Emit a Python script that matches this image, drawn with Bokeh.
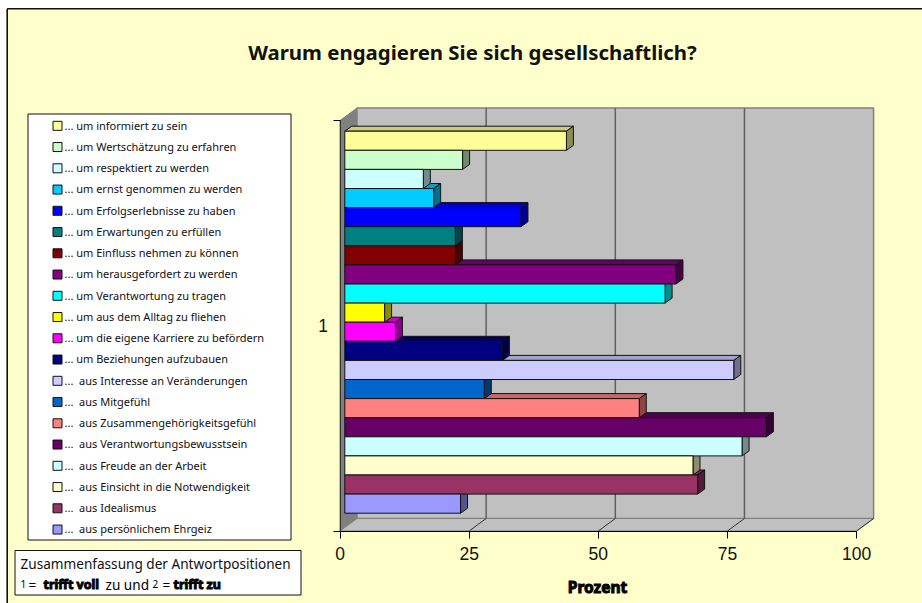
from bokeh.plotting import figure
from bokeh.embed import file_html
from bokeh.resources import INLINE
from bokeh.models import FixedTicker
from bokeh.core.properties import value

title = "Warum engagieren Sie sich gesellschaftlich?"
labels = ["... um informiert zu sein", "... um Wertschätzung zu erfahren", "... um respektiert zu werden",
          "... um ernst genommen zu werden", "... um Erfolgserlebnisse zu haben", "... um Erwartungen zu erfüllen",
          "... um Einfluss nehmen zu können", "... um herausgefordert zu werden", "... um Verantwortung zu tragen",
          "... um aus dem Alltag zu fliehen", "... um die eigene Karriere zu befördern", "... um Beziehungen aufzubauen",
          "...\u00a0 aus Interesse an Veränderungen", "...\u00a0 aus Mitgefühl", "...\u00a0 aus Zusammengehörigkeitsgefühl",
          "...\u00a0 aus Verantwortungsbewusstsein", "...\u00a0 aus Freude an der Arbeit", "...\u00a0 aus Einsicht in die Notwendigkeit",
          "...\u00a0 aus Idealismus", "...\u00a0 aus persönlichem Ehrgeiz"]
values = [42.9, 22.8, 15.2, 17.2, 34.1, 21.4, 21.4, 64.1, 62.0, 7.7, 9.8, 30.5, 75.3, 27.0, 57.0, 81.6, 76.9, 67.4, 68.3, 22.4]
colors = ["#FFFF99", "#CCFFCC", "#CCFFFF", "#00CCFF", "#0000FF", "#008080", "#800000", "#800080", "#00FFFF", "#FFFF00",
          "#FF00FF", "#000080", "#CCCCFF", "#0066CC", "#FF8080", "#660066", "#CCFFFF", "#FFFFCC", "#993366", "#9999FF"]
x_ticks = [0, 25, 50, 75, 100]
x_title = "Prozent"
y_label = "1"
note_line = "Zusammenfassung der Antwortpositionen"

W, H = 922, 603
X0, Y0 = 339.5, 530.5     # pixel of value 0 on the front floor edge
PPU = 5.166               # pixels per percent
SLOT = 19.1               # pixels per bar slot
def X(px): return (px - X0) / PPU
def Y(py): return (Y0 - py) / SLOT
def shade(c, f):
    return "#%02x%02x%02x" % tuple(int(int(c[i:i + 2], 16) * f) for i in (1, 3, 5))

p = figure(width=W, height=H, x_range=(X(0), X(W)), y_range=(Y(H), Y(0)), output_backend="svg",
           toolbar_location=None, min_border=0, background_fill_color="white", border_fill_color="white",
           outline_line_color=None)
p.grid.visible = False

# chart background with its frame
p.quad(left=[X(7)], right=[X(W + 5)], bottom=[Y(H + 5)], top=[Y(8.5)], fill_color="#FFFFCC", line_color=None)
p.segment(x0=[X(6.7), X(6.7)], y0=[Y(8.3), Y(8.3)], x1=[X(6.7), X(W + 5)], y1=[Y(H + 5), Y(8.3)], line_color="#111111", line_width=1.6)

# walls
wx, wy = 17.0, 12.5
top_y = 120.0
p.patch([X(X0), X(X0 + wx), X(X0 + wx), X(X0)], [Y(top_y), Y(top_y - wy), Y(Y0 - wy), Y(Y0)], fill_color="#808080", line_color="#808080")
p.patch([X(X0 + wx), X(X0 + wx + 100 * PPU), X(X0 + wx + 100 * PPU), X(X0 + wx)],
        [Y(top_y - wy), Y(top_y - wy), Y(Y0 - wy), Y(Y0 - wy)], fill_color="#C0C0C0", line_color="#808080", line_width=1.5)
p.patch([X(X0), X(X0 + wx), X(X0 + wx + 100 * PPU), 100], [0, Y(Y0 - wy), Y(Y0 - wy), 0], fill_color="#C0C0C0", line_color="#808080", line_width=1)

# gridlines: vertical on the back wall, diagonal on the floor
inner = x_ticks[1:-1]
p.segment(x0=[t + wx / PPU for t in inner], x1=[t + wx / PPU for t in inner], y0=[Y(Y0 - wy)] * 3, y1=[Y(top_y - wy)] * 3,
          line_color="#606060", line_width=1.5)
p.segment(x0=x_ticks[1:], x1=[t + wx / PPU for t in x_ticks[1:]], y0=[0] * 4, y1=[Y(Y0 - wy)] * 4, line_color="#333333", line_width=1)

# bars
bx, by = 4.8 / PPU, 3.5 / SLOT      # start of the bars inside the box
dx, dy = 7 / PPU, 5 / SLOT          # depth of a bar
BAR_TOP = Y(130.7)
n = len(values)
for i in range(n - 1, -1, -1):
    v, c = values[i], colors[i]
    t, b = BAR_TOP - i, BAR_TOP - i - 1
    p.patch([bx, bx + dx, bx + v + dx, bx + v], [t, t + dy, t + dy, t], fill_color=shade(c, 0.8), line_color="#111111", line_width=1)
    p.patch([bx + v, bx + v + dx, bx + v + dx, bx + v], [t, t + dy, b + dy, b], fill_color=shade(c, 0.55), line_color="#111111", line_width=1)
for i in range(n):
    t, b = BAR_TOP - i, BAR_TOP - i - 1
    p.quad(left=[bx], right=[bx + values[i]], top=[t], bottom=[b], fill_color=colors[i], line_color="#111111", line_width=1)

# axes
xa = p.xaxis[0]
xa.fixed_location = 0
xa.bounds = (0, 100)
xa.ticker = FixedTicker(ticks=x_ticks)
xa.major_tick_in, xa.major_tick_out = 0, 7
xa.minor_tick_in = xa.minor_tick_out = 0
xa.major_label_text_font = "Liberation Sans"
xa.major_label_text_font_size = "17.5px"
xa.major_label_text_color = "#111111"
xa.major_label_standoff = 9
xa.axis_line_color = "black"
xa.major_tick_line_color = "black"

ya = p.yaxis[0]
ya.fixed_location = 0
ya.bounds = (0, Y(top_y))
ya.ticker = FixedTicker(ticks=[Y(325)], minor_ticks=[0, Y(top_y)])
ya.major_label_overrides = {Y(325): y_label}
ya.major_tick_in = ya.major_tick_out = 0
ya.minor_tick_in, ya.minor_tick_out = 0, 7
ya.major_label_text_font = "Liberation Sans"
ya.major_label_text_font_size = "17.5px"
ya.major_label_text_color = "#111111"
ya.major_label_standoff = 5
ya.axis_line_color = "#333333"
ya.minor_tick_line_color = "black"

FONT = value("Noto Sans")
# title and axis title
p.text([X(472)], [Y(51)], text=[title], text_font=FONT, text_font_style="bold", text_font_size="20.4px",
       text_align="center", text_baseline="middle", text_color="#111111")
p.text([X(597)], [Y(586.5)], text=[x_title], text_font=FONT, text_font_style="bold", text_font_size="15.5px",
       text_align="center", text_baseline="middle", text_color="black", text_outline_color="black")

# legend
p.quad(left=[X(27.5)], right=[X(290.5)], top=[Y(113.5)], bottom=[Y(539.5)], fill_color="white", line_color="#111111", line_width=1)
PITCH = 21.25
ly = [125.3 + i * PITCH for i in range(n)]
p.quad(left=[X(52.5)] * n, right=[X(61.5)] * n, top=[Y(y - 4.5) for y in ly], bottom=[Y(y + 4.5) for y in ly],
       fill_color=colors, line_color="#111111", line_width=1)
p.text([X(64)] * n, [Y(y - 0.8) for y in ly], text=labels, text_font=FONT, text_font_size="11px", text_baseline="middle", text_color="#111111")

# note box
p.quad(left=[X(14.5)], right=[X(300.5)], top=[Y(550)], bottom=[Y(594.5)], fill_color="white", line_color="#111111", line_width=1)
p.text([X(20)], [Y(563)], text=[note_line], text_font=FONT, text_font_size="13.6px", text_baseline="middle", text_color="#111111")
seg_text = ["1", "=", "trifft voll", "zu und", "2", "=", "trifft zu"]
seg_x = [20, 28, 43, 105, 152, 162, 173]
seg_bold = [False, False, True, False, False, False, True]
seg_size = ["10px", "13.6px", "12.5px", "13.6px", "10px", "13.6px", "12.5px"]
for s, sx, sb, sz in zip(seg_text, seg_x, seg_bold, seg_size):
    p.text([X(sx)], [Y(583.5)], text=[s], text_font=FONT, text_font_style="bold" if sb else "normal", text_font_size=sz,
           text_baseline="middle", text_color="black", text_outline_color="black" if sb else None)

open("out.html", "w").write(file_html(p, INLINE))
